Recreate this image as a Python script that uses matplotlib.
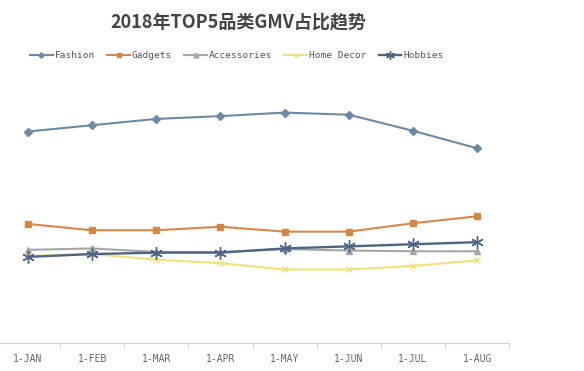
import matplotlib.pyplot as plt

plt.rcParams['font.family'] = ['Noto Sans CJK SC', 'DejaVu Sans']

months = ['1-JAN', '1-FEB', '1-MAR', '1-APR', '1-MAY', '1-JUN', '1-JUL', '1-AUG']
fashion = [30.2, 31.1, 32.0, 32.4, 32.9, 32.6, 30.3, 27.8]
gadgets = [17.0, 16.1, 16.1, 16.6, 15.9, 15.9, 17.1, 18.1]
accessories = [13.3, 13.5, 13.0, 13.0, 13.4, 13.2, 13.1, 13.1]
home_decor = [12.4, 12.7, 11.9, 11.4, 10.5, 10.5, 11.0, 11.8]
hobbies = [12.3, 12.7, 12.9, 12.9, 13.5, 13.8, 14.1, 14.4]

fig = plt.figure(figsize=(5.84, 3.71), dpi=100)
# axis spans a little past the left edge of the image, like the original
ax = fig.add_axes([-0.007, 0.0755, 0.879, 0.755])
x = range(len(months))

ax.plot(x, fashion, color='#6e8aa3', lw=1.5, marker='D', ms=4, label='Fashion')
ax.plot(x, gadgets, color='#d8874a', lw=1.5, marker='s', ms=5, mfc='#c98a48', label='Gadgets')
ax.plot(x, accessories, color='#a6a6a6', lw=1.5, marker='^', ms=5, label='Accessories')
ax.plot(x, home_decor, color='#efe27a', lw=1.5, marker='x', ms=5, label='Home Decor')
ax.plot(x, hobbies, color='#4f6482', lw=1.7, marker=(6, 2, 0), ms=9, label='Hobbies')

ax.set_xlim(-0.5, len(months) - 0.5)
ax.set_ylim(0, 40)
ax.set_xticks(x)
ax.set_xticklabels(months, family='DejaVu Sans Mono', fontsize=7, color='#666666')
ax.set_xticks([i + 0.5 for i in range(len(months))], minor=True)
ax.tick_params(axis='x', which='major', length=0, pad=8)
ax.tick_params(axis='x', which='minor', length=4, color='#d0d0d0')
ax.set_yticks([])
for s in ['top', 'right', 'left']:
    ax.spines[s].set_visible(False)
ax.spines['bottom'].set_color('#d0d0d0')

fig.text(0.408, 0.94, '2018年TOP5品类GMV占比趋势', ha='center', va='center',
         fontsize=13, fontweight='bold', color='#444444')

leg = fig.legend(loc='center left', bbox_to_anchor=(0.037, 0.85), ncol=5, frameon=False,
                 prop={'family': 'DejaVu Sans Mono', 'size': 6.8}, handlelength=2.4,
                 handletextpad=0.2, columnspacing=1.3, markerscale=0.7)
for t in leg.get_texts():
    t.set_color('#555555')

fig.savefig('out.png', dpi=100)
